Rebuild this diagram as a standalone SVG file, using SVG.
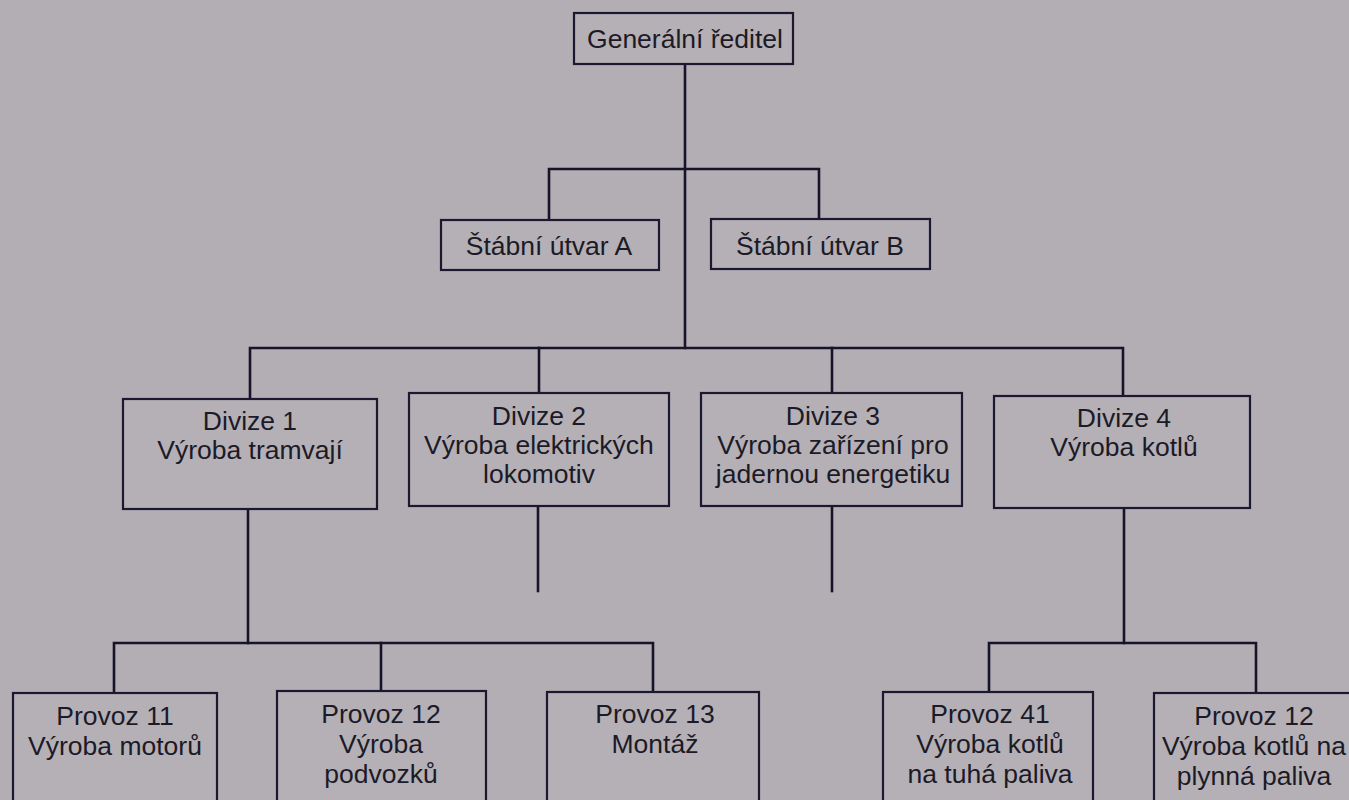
<svg xmlns="http://www.w3.org/2000/svg" width="1349" height="800" viewBox="0 0 1349 800">
  <style>
    .bg { fill: #b2aeb4; }
    .box { fill: #b4b0b6; stroke: #1b1830; stroke-width: 2.2; }
    .conn { fill: none; stroke: #17142a; stroke-width: 2.6; stroke-linecap: square; }
    .t { font-family: "Liberation Sans", Arial, Helvetica, sans-serif; font-size: 26.5px; fill: #1c1a26; text-anchor: middle; }
  </style>
  <rect class="bg" x="0" y="0" width="1349" height="800"/>

  <g id="connectors">
    <path class="conn" d="M685,64 V348"/>
    <path class="conn" d="M549,220 V169 H819 V219"/>
    <path class="conn" d="M250,400 V348 H1123 V396"/>
    <path class="conn" d="M539,348 V393"/>
    <path class="conn" d="M832,348 V393"/>
    <path class="conn" d="M538,506 V591"/>
    <path class="conn" d="M832,506 V591"/>
    <path class="conn" d="M248,509 V643"/>
    <path class="conn" d="M114,693 V643 H653 V692"/>
    <path class="conn" d="M381,643 V691"/>
    <path class="conn" d="M1124,508 V643"/>
    <path class="conn" d="M989,693 V643 H1256 V693"/>
  </g>

  <g id="gen">
    <rect class="box" x="574" y="13" width="219" height="51"/>
    <text class="t" x="685" y="48">Generální ředitel</text>
  </g>

  <g id="stab-a">
    <rect class="box" x="441" y="220" width="218" height="50"/>
    <text class="t" x="549" y="255">Štábní útvar A</text>
  </g>
  <g id="stab-b">
    <rect class="box" x="711" y="219" width="219" height="50"/>
    <text class="t" x="820" y="255">Štábní útvar B</text>
  </g>

  <g id="div1">
    <rect class="box" x="123" y="399" width="254" height="110"/>
    <text class="t" x="250" y="430">Divize 1</text>
    <text class="t" x="250" y="459">Výroba tramvají</text>
  </g>
  <g id="div2">
    <rect class="box" x="409" y="393" width="260" height="113"/>
    <text class="t" x="539" y="425">Divize 2</text>
    <text class="t" x="539" y="454">Výroba elektrických</text>
    <text class="t" x="539" y="483">lokomotiv</text>
  </g>
  <g id="div3">
    <rect class="box" x="701" y="393" width="261" height="113"/>
    <text class="t" x="833" y="425">Divize 3</text>
    <text class="t" x="833" y="454">Výroba zařízení pro</text>
    <text class="t" x="833" y="483">jadernou energetiku</text>
  </g>
  <g id="div4">
    <rect class="box" x="994" y="396" width="256" height="112"/>
    <text class="t" x="1124" y="427">Divize 4</text>
    <text class="t" x="1124" y="456">Výroba kotlů</text>
  </g>

  <g id="p11">
    <rect class="box" x="13" y="693" width="204" height="120"/>
    <text class="t" x="115" y="725">Provoz 11</text>
    <text class="t" x="115" y="755">Výroba motorů</text>
  </g>
  <g id="p12">
    <rect class="box" x="277" y="691" width="209" height="120"/>
    <text class="t" x="381" y="723">Provoz 12</text>
    <text class="t" x="381" y="753">Výroba</text>
    <text class="t" x="381" y="783">podvozků</text>
  </g>
  <g id="p13">
    <rect class="box" x="547" y="692" width="212" height="120"/>
    <text class="t" x="655" y="723">Provoz 13</text>
    <text class="t" x="655" y="753">Montáž</text>
  </g>
  <g id="p41">
    <rect class="box" x="883" y="692" width="210" height="120"/>
    <text class="t" x="990" y="723">Provoz 41</text>
    <text class="t" x="990" y="753">Výroba kotlů</text>
    <text class="t" x="990" y="783">na tuhá paliva</text>
  </g>
  <g id="p12b">
    <rect class="box" x="1154" y="693" width="210" height="120"/>
    <text class="t" x="1254" y="725">Provoz 12</text>
    <text class="t" x="1254" y="755">Výroba kotlů na</text>
    <text class="t" x="1254" y="785">plynná paliva</text>
  </g>
</svg>
